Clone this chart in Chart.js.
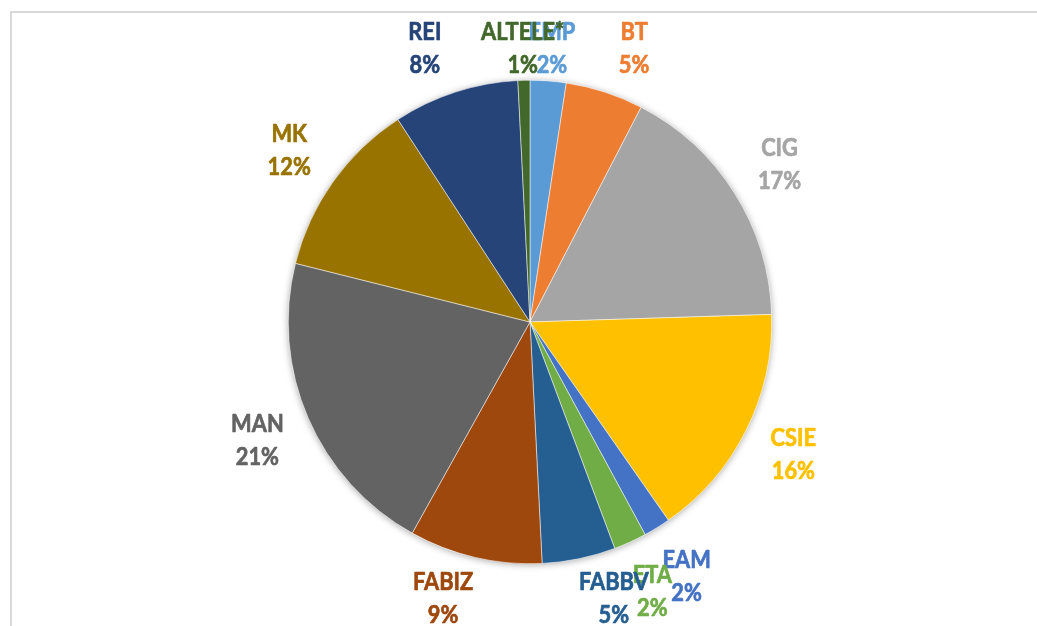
<!DOCTYPE html>
<html>
<head>
<meta charset="utf-8">
<script src="https://cdn.jsdelivr.net/npm/chart.js@4"></script>
<style>
  html, body { margin: 0; padding: 0; background: #fff; overflow: hidden; }
  #wrap { position: relative; width: 1037px; height: 626px; }
  #frame { position: absolute; left: 10px; top: 11px; width: 1100px; height: 700px;
           border-left: 2px solid #d9d9d9; border-top: 2px solid #d9d9d9; box-sizing: border-box; }
  canvas { position: absolute; left: 0; top: 0; }
</style>
</head>
<body>
<div id="wrap">
  <div id="frame"></div>
  <canvas id="c" width="1037" height="626"></canvas>
</div>
<script>
const categories = ['EMP', 'BT', 'CIG', 'CSIE', 'EAM', 'ETA', 'FABBV', 'FABIZ', 'MAN', 'MK', 'REI', 'ALTELE*'];
const shares = [2.4, 5.2, 16.9, 15.8, 1.8, 2.2, 4.9, 8.9, 20.8, 11.9, 8.4, 0.8];
const sliceColors = ['#5B9BD5', '#ED7D31', '#A5A5A5', '#FFC000', '#4472C4', '#70AD47',
                     '#255E91', '#9E480E', '#636363', '#997300', '#264478', '#43682B'];

const shadowPlugin = {
  id: 'pieShadow',
  beforeDatasetsDraw(chart) {
    const arc = chart.getDatasetMeta(0).data[0];
    if (!arc) return;
    const ctx = chart.ctx;
    ctx.save();
    ctx.shadowColor = 'rgba(0,0,0,0.35)';
    ctx.shadowBlur = 7;
    ctx.shadowOffsetX = 0;
    ctx.shadowOffsetY = 1;
    ctx.fillStyle = '#ffffff';
    ctx.beginPath();
    ctx.arc(arc.x, arc.y, arc.outerRadius, 0, Math.PI * 2);
    ctx.fill();
    ctx.restore();
  }
};

const labelPlugin = {
  id: 'outLabels',
  afterDatasetsDraw(chart) {
    const meta = chart.getDatasetMeta(0);
    const ctx = chart.ctx;
    const total = shares.reduce((a, b) => a + b, 0);
    const area = chart.chartArea;
    ctx.save();
    ctx.font = 'bold 24px Lato, "Open Sans", sans-serif';
    ctx.textAlign = 'center';
    ctx.textBaseline = 'middle';
    ctx.lineJoin = 'round';
    ctx.lineWidth = 0.7;
    const sx = 0.91;
    const boxH = 56;
    const gap = 20;
    meta.data.forEach((arc, i) => {
      const name = categories[i];
      const pct = Math.round(shares[i] / total * 100) + '%';
      const boxW = Math.max(ctx.measureText(name).width, ctx.measureText(pct).width) * sx;
      const mid = (arc.startAngle + arc.endAngle) / 2;
      const ux = Math.cos(mid), uy = Math.sin(mid);
      const dist = arc.outerRadius + gap + (boxW / 2) * Math.abs(ux) + (boxH / 2) * Math.abs(uy);
      let x = arc.x + ux * dist;
      let y = arc.y + uy * dist;
      const yMin = area.top - 32;
      const yMax = area.bottom + 34;
      const cy = Math.max(yMin, Math.min(yMax, y));
      if (cy !== y) {
        const dy = cy - arc.y;
        const fromVert = Math.abs(Math.atan2(x - arc.x, Math.abs(dy)));
        if (fromVert > 10 * Math.PI / 180 && Math.abs(dy) < dist) {
          const px = arc.x + Math.sign(x - arc.x) * Math.sqrt(dist * dist - dy * dy);
          const k = dy < 0 ? 1 : 0.5;
          x = x + k * (px - x);
        }
        y = cy;
      }
      ctx.fillStyle = sliceColors[i];
      ctx.strokeStyle = sliceColors[i];
      ctx.save();
      ctx.translate(x, 0);
      ctx.scale(sx, 1);
      ctx.fillText(name, 0, y - 16);
      ctx.strokeText(name, 0, y - 16);
      ctx.fillText(pct, 0, y + 17);
      ctx.strokeText(pct, 0, y + 17);
      ctx.restore();
    });
    ctx.restore();
  }
};

new Chart(document.getElementById('c'), {
  type: 'pie',
  data: {
    labels: categories,
    datasets: [{
      data: shares,
      backgroundColor: sliceColors,
      borderColor: '#ffffff',
      borderWidth: 0.5
    }]
  },
  options: {
    responsive: false,
    animation: false,
    layout: { padding: { top: 80, bottom: 62, left: 100, right: 77 } },
    plugins: {
      legend: { display: false },
      tooltip: { enabled: false },
      title: { display: false }
    }
  },
  plugins: [shadowPlugin, labelPlugin]
});
</script>
</body>
</html>
